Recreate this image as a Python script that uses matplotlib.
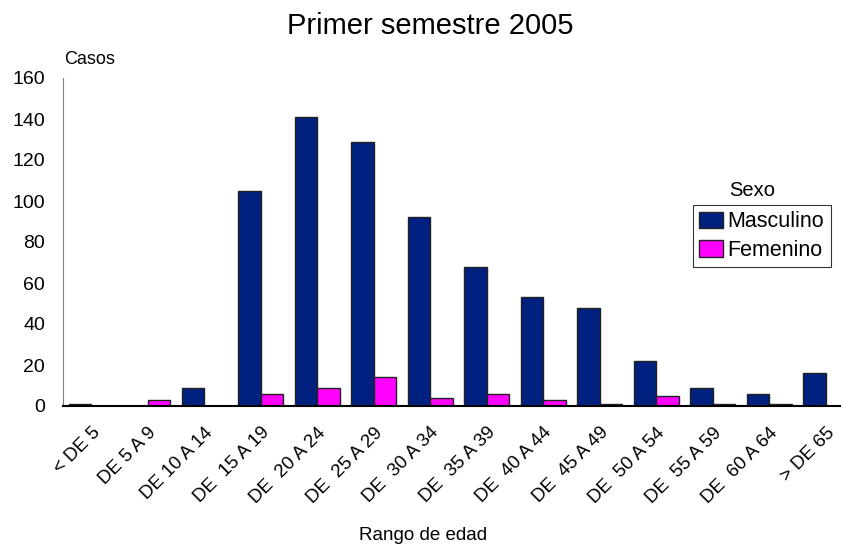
import numpy as np
import matplotlib.pyplot as plt

plt.rcParams['font.family'] = ['Liberation Sans', 'DejaVu Sans']

# Data
rangos = ['< DE 5', 'DE 5 A 9', 'DE 10 A 14', 'DE  15 A 19', 'DE  20 A 24', 'DE  25 A 29',
          'DE  30 A 34', 'DE  35 A 39', 'DE  40 A 44', 'DE  45 A 49', 'DE  50 A 54',
          'DE  55 A 59', 'DE  60 A 64', '> DE 65']
masculino = [1, 0, 9, 105, 141, 129, 92, 68, 53, 48, 22, 9, 6, 16]
femenino = [0, 3, 0, 6, 9, 14, 4, 6, 3, 1, 5, 1, 1, 0]

fig = plt.figure(figsize=(8.41, 5.47), dpi=100)
ax = fig.add_axes([63 / 841, 141 / 547, 791 / 841, 328 / 547])

x = np.arange(len(rangos))
w = 0.4
ax.bar(x - w / 2, masculino, w, color='#002080', edgecolor='#222222', linewidth=1, label='Masculino')
ax.bar(x + w / 2, femenino, w, color='#FF00FF', edgecolor='#222222', linewidth=1, label='Femenino')

ax.set_xlim(-0.5, 13.5)
ax.set_ylim(0, 160)
ax.set_yticks(range(0, 161, 20))
ax.set_xticks(x)
ax.set_xticklabels(rangos, rotation=45, ha='right', rotation_mode='anchor', fontsize=13.5)
ax.tick_params(axis='y', length=0, labelsize=14, pad=13)
ax.tick_params(axis='x', length=0, pad=13)
ax.spines['top'].set_visible(False)
ax.spines['right'].set_visible(False)
ax.spines['left'].set_color('#808080')
ax.spines['bottom'].set_color('black')
ax.spines['bottom'].set_linewidth(1.5)

fig.text(430 / 841, 1 - 26 / 547, 'Primer semestre 2005', ha='center', va='center', fontsize=21)
fig.text(64 / 841, 1 - 60 / 547, 'Casos', ha='left', va='center', fontsize=13)
fig.text(423 / 841, 1 - 536 / 547, 'Rango de edad', ha='center', va='center', fontsize=13.5)
fig.text(752 / 841, 1 - 190 / 547, 'Sexo', ha='center', va='center', fontsize=14.5)

leg = ax.legend(loc='upper left', bbox_to_anchor=(693 / 841, 1 - 205 / 547),
                bbox_transform=fig.transFigure, fontsize=15.5, frameon=True, fancybox=False,
                handlelength=1.1, handleheight=0.8, handletextpad=0.2, borderpad=0.3,
                labelspacing=0.35, borderaxespad=0)
leg.get_frame().set_edgecolor('black')
leg.get_frame().set_linewidth(0.8)

fig.savefig('out.png', dpi=100)
